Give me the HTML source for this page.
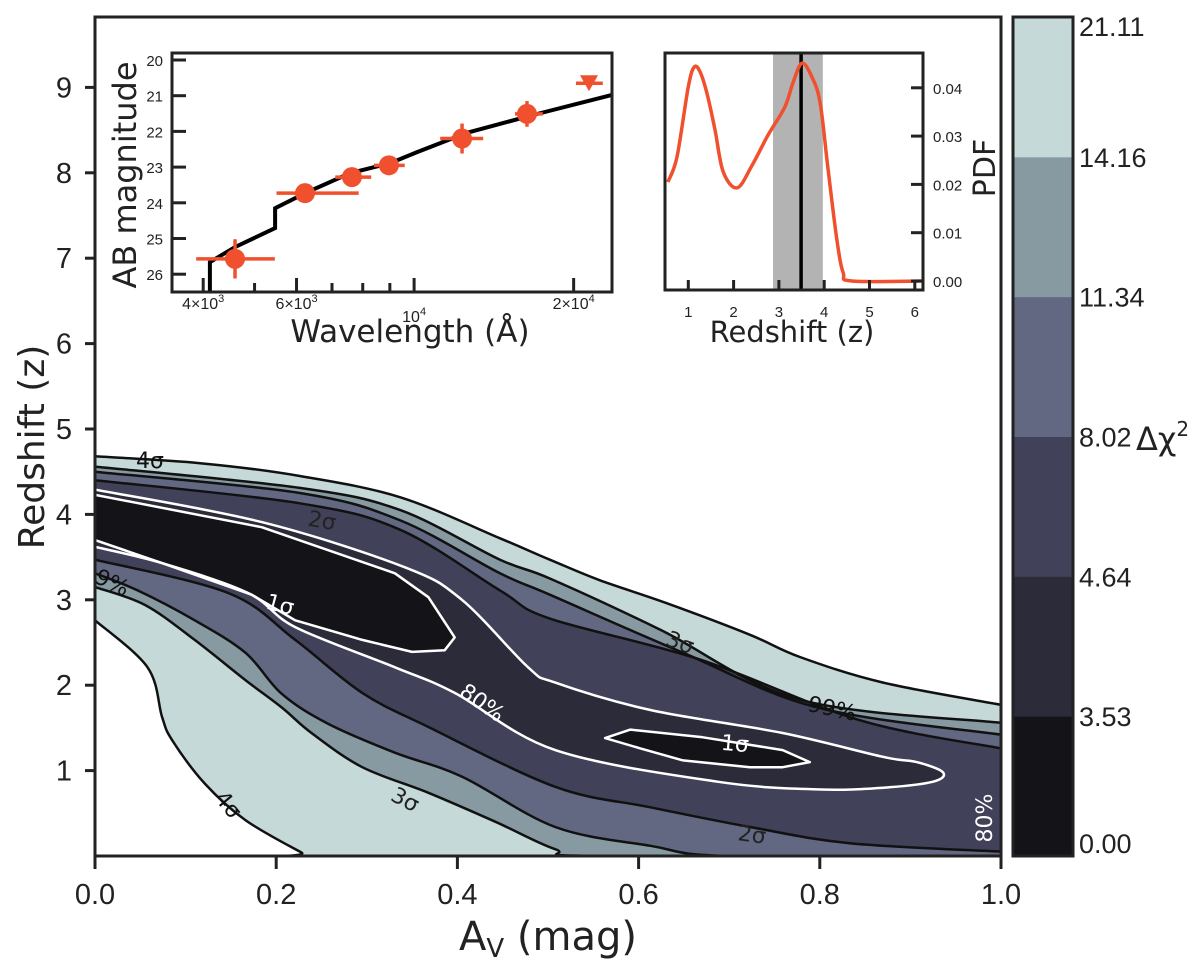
<!DOCTYPE html>
<html><head><meta charset="utf-8"><style>
html,body{margin:0;padding:0;background:#fff}
svg{display:block}
.tk{font-family:"Liberation Sans",Arial,sans-serif;fill:#222}
.tt{font-family:"DejaVu Sans","Liberation Sans",sans-serif;fill:#222}
</style></head><body>
<svg id="fig" width="1200" height="967" viewBox="0 0 1200 967" xmlns="http://www.w3.org/2000/svg"></svg>
<script>
// ---- main contour data (Av, z) ----
const band21UpAv=[0,.116,.226,.337,.447,.502,.557,.631,.723,.778,.870,1];
const band21UpZ=[4.68,4.60,4.45,4.20,3.72,3.47,3.23,2.96,2.59,2.33,2.03,1.77];
const band21LoAv=[0,.058,.074,.085,.121,.166,.228,.237,1];
const band21LoZ=[2.76,2.21,1.63,1.36,.85,.42,.04,0,0];
const band14UpAv=[0,.226,.337,.447,.502,.624,.778,1];
const band14UpZ=[4.56,4.31,4.05,3.47,3.25,2.65,1.83,1.56];
const band14LoAv=[0,.055,.110,.166,.206,.239,.295,.368,.442,.508,.557,1];
const band14LoZ=[3.15,2.94,2.53,2.06,1.74,1.44,1.04,.74,.40,.08,0,0];
const band11UpAv=[0,.226,.337,.447,.502,.649,.797,1];
const band11UpZ=[4.50,4.25,3.93,3.31,3.06,2.38,1.74,1.42];
const band11LoAv=[0,.047,.110,.166,.206,.257,.331,.405,.508,.613,.70,1];
const band11LoZ=[3.31,3.11,2.76,2.38,1.90,1.55,1.21,.93,.34,.12,0,0];
const band8UpAv=[0,.226,.337,.447,.502,.668,.844,1];
const band8UpZ=[4.40,4.13,3.82,3.11,2.78,2.30,1.59,1.26];
const band8LoAv=[0,.147,.221,.295,.368,.508,.613,.723,.833,1];
const band8LoZ=[3.47,3.08,2.53,1.91,1.51,.81,.57,.34,.15,.05];
const c80Av=[0,.184,.342,.405,.478,.508,.613,.759,.870,.907,.936,.925,.870,.797,.687,.508,.397,.331,.221,.169,.074,0];
const c80Z=[4.29,3.91,3.38,3.0,2.21,2.03,1.71,1.44,1.16,1.10,.98,.87,.80,.78,.87,1.24,1.91,2.21,2.68,3.08,3.43,3.62];
const c1aAv=[0,.184,.331,.368,.397,.386,.350,.295,.221,.173,.074,0];
const c1aZ=[4.23,3.85,3.31,3.03,2.56,2.41,2.39,2.53,2.76,3.06,3.43,3.70];
const c1bAv=[.563,.591,.671,.759,.789,.759,.723,.649,.602,.563];
const c1bZ=[1.38,1.48,1.39,1.24,1.10,1.04,1.04,1.12,1.26,1.38];
const xTicks=[0,0.2,0.4,0.6,0.8,1.0];
const xTickLabels=["0.0","0.2","0.4","0.6","0.8","1.0"];
const yTicks=[1,2,3,4,5,6,7,8,9];
const cbLevels=[0,3.53,4.64,8.02,11.34,14.16,21.11];
const cbLabels=["0.00","3.53","4.64","8.02","11.34","14.16","21.11"];
const cbColors=["#131318","#2b2b3a","#414159","#636882","#879aa1","#c5d9d9"];
// ---- SED inset data ----
const sedLam=[4593,6225,7632,8963,12316,16330];
const sedMag=[25.57,23.73,23.28,22.95,22.2,21.51];
const sedLamLo=[3880,5500,7100,8400,11200,15500];
const sedLamHi=[5460,7860,8300,9600,13500,17500];
const sedMagErr=[0.55,0.1,0.1,0.1,0.42,0.36];
const limLam=[21380];const limMag=[20.65];const limLamLo=[20200];const limLamHi=[22700];
const modelLam=[4118,4118,4593,5466,5466,6225,7570,9006,10130,12580,16770,23620];
const modelMag=[26.5,25.66,25.24,24.71,24.15,23.73,23.17,22.89,22.58,22.04,21.54,20.98];
const magTicks=[20,21,22,23,24,25,26];
// ---- PDF inset data ----
const pdfZ=[.55,.75,1.0,1.13,1.26,1.41,1.59,1.77,2.08,2.41,2.76,3.13,3.31,3.51,3.73,3.91,4.08,4.28,4.42,4.61,6.18];
const pdfV=[.0205,.0257,.0402,.0443,.0433,.0389,.0313,.0226,.0193,.024,.0302,.036,.041,.0451,.0422,.0369,.0236,.0085,.0017,0,0];
const zBest=[3.49];const zLo=[2.87];const zHi=[3.97];
const pdfTicks=[0,0.01,0.02,0.03,0.04];
const pdfZTicks=[1,2,3,4,5,6];

const NS="http://www.w3.org/2000/svg";
const svg=document.getElementById('fig');
function el(tag,attrs,parent){const e=document.createElementNS(NS,tag);for(const k in attrs)e.setAttribute(k,attrs[k]);(parent||svg).appendChild(e);return e;}
const X0=95,X1=1001,Y0=856,PZ=85.4;
const sx=a=>X0+(X1-X0)*a, sy=z=>Y0-PZ*z;
function pathFrom(avs,zs,close){return avs.map((a,i)=>(i?'L':'M')+sx(a).toFixed(1)+','+sy(zs[i]).toFixed(1)).join('')+(close?'Z':'');}
function smoothPts(P){if(P.length<3)return P.map((p,i)=>(i?'L':'M')+p[0].toFixed(1)+','+p[1].toFixed(1)).join('');
let d='M'+P[0][0].toFixed(1)+','+P[0][1].toFixed(1);
for(let i=0;i<P.length-1;i++){const p0=P[Math.max(0,i-1)],p1=P[i],p2=P[i+1],p3=P[Math.min(P.length-1,i+2)];
const c1=[p1[0]+(p2[0]-p0[0])/6,p1[1]+(p2[1]-p0[1])/6],c2=[p2[0]-(p3[0]-p1[0])/6,p2[1]-(p3[1]-p1[1])/6];
d+=`C${c1[0].toFixed(1)},${c1[1].toFixed(1)} ${c2[0].toFixed(1)},${c2[1].toFixed(1)} ${p2[0].toFixed(1)},${p2[1].toFixed(1)}`;}return d;}
const toPts=(A,Z)=>A.map((a,i)=>[sx(a),sy(Z[i])]);
function smoothPath(A,Z){return smoothPts(toPts(A,Z));}
function bandPath(ua,uz,la,lz){const up=smoothPts(toPts(ua,uz));const lo=toPts(la,lz).reverse();return up+smoothPts(lo).replace(/^M/,'L')+'Z';}
const defs=el('defs',{});
const cp=el('clipPath',{id:'pc'},defs);el('rect',{x:X0,y:17,width:X1-X0,height:Y0-17},cp);
const g=el('g',{'clip-path':'url(#pc)'});


const bands=[[band21UpAv,band21UpZ,band21LoAv,band21LoZ,cbColors[5],'band-21'],[band14UpAv,band14UpZ,band14LoAv,band14LoZ,cbColors[4],'band-14'],[band11UpAv,band11UpZ,band11LoAv,band11LoZ,cbColors[3],'band-11'],[band8UpAv,band8UpZ,band8LoAv,band8LoZ,cbColors[2],'band-8']];
bands.forEach(b=>{const p=el('path',{d:bandPath(b[0],b[1],b[2],b[3]),fill:b[4]},g);

});
const p80=el('path',{d:smoothPath(c80Av,c80Z),fill:cbColors[1]},g);


[[c1aAv,c1aZ],[c1bAv,c1bZ]].forEach(c=>{const p=el('path',{d:pathFrom(c[0],c[1],true),fill:cbColors[0]},g);

});
bands.forEach(b=>{[[b[0],b[1]],[b[2],b[3]]].forEach(c=>{const p=el('path',{d:smoothPath(c[0],c[1]),fill:'none',stroke:'#111',"stroke-width":2.5,"stroke-linejoin":"round"},g);

});});
{const p=el('path',{d:smoothPath(c80Av,c80Z),fill:'none',stroke:'#fff',"stroke-width":2.5},g);

}
[[c1aAv,c1aZ],[c1bAv,c1bZ]].forEach(c=>{const p=el('path',{d:pathFrom(c[0],c[1],true),fill:'none',stroke:'#fff',"stroke-width":2.5,"stroke-linejoin":"round"},g);

});
const clabels=[["4σ",150,468,0,'#111'],["2σ",322,528,10,'#222'],["1σ",280,612,15,'#fff'],["80%",482,710,35,'#fff'],["3σ",680,650,20,'#222'],["99%",832,716,12,'#111'],["1σ",735,751,5,'#fff'],["3σ",405,807,28,'#222'],["4σ",228,812,50,'#111'],["2σ",752,842,8,'#222'],["80%",985,825,-90,'#fff'],["9%",112,590,25,'#111']];
clabels.forEach(l=>{const t=el('text',{x:l[1],y:l[2],class:'tt','font-size':22,style:'fill:'+l[4],'text-anchor':'middle',transform:`rotate(${l[3]} ${l[1]} ${l[2]-7})`},g);t.textContent=l[0];

});
const fr=el('rect',{x:X0,y:17,width:X1-X0,height:Y0-17,fill:'none',stroke:'#222','stroke-width':3});


xTicks.forEach((v,i)=>{el('line',{x1:sx(v),x2:sx(v),y1:Y0,y2:Y0+13,stroke:'#222','stroke-width':3});
const t=el('text',{x:sx(v),y:904,class:'tk','font-size':29,'text-anchor':'middle'});t.textContent=xTickLabels[i];

});
yTicks.forEach(v=>{el('line',{x1:X0-10,x2:X0,y1:sy(v),y2:sy(v),stroke:'#222','stroke-width':3});
const t=el('text',{x:72,y:sy(v)+10,class:'tk','font-size':29,'text-anchor':'end'});t.textContent=v;

});
let t=el('text',{x:548,y:950,class:'tt','font-size':40,'text-anchor':'middle'});t.innerHTML='A<tspan font-size="26" dy="7">V</tspan><tspan dy="-7"> (mag)</tspan>';


t=el('text',{x:0,y:0,class:'tt','font-size':36,'text-anchor':'middle',transform:'translate(44,447) rotate(-90)'});t.textContent='Redshift (z)';


const CB0=17,CB1=856,CX=1013,CW=60;
const cy=i=>CB1-(CB1-CB0)*i/(cbLevels.length-1);
cbColors.forEach((c,i)=>{const r=el('rect',{x:CX,y:cy(i+1),width:CW,height:cy(i)-cy(i+1)+0.5,fill:c});

});
el('rect',{x:CX,y:CB0,width:CW,height:CB1-CB0,fill:'none',stroke:'#222','stroke-width':3});
cbLabels.forEach((l,i)=>{const tt=el('text',{x:1079,y:cy(i)+(i==0?-3:(i==6?19:10)),class:'tk','font-size':27});tt.textContent=l;

});
t=el('text',{x:1136,y:450,class:'tt','font-size':32});t.innerHTML='Δχ<tspan font-size="20" dy="-14">2</tspan>';


// SED inset
const SX0=172,SX1=612,SY0=53,SY1=292;
const lx=l=>172+530*(Math.log10(l)-Math.log10(3493)), my=m=>60+35.7*(m-20);
const sg=el('g',{});


el('rect',{x:SX0,y:SY0,width:SX1-SX0,height:SY1-SY0,fill:'#fff'},sg);
const cps=el('clipPath',{id:'sc'},defs);el('rect',{x:SX0,y:SY0,width:SX1-SX0,height:SY1-SY0},cps);
const sgc=el('g',{'clip-path':'url(#sc)'},sg);
const ml=el('path',{d:modelLam.map((l,i)=>(i?'L':'M')+lx(l).toFixed(1)+','+my(modelMag[i]).toFixed(1)).join(''),fill:'none',stroke:'#000','stroke-width':4},sgc);


const OR='#f0502e';
sedLam.forEach((l,i)=>{el('line',{x1:lx(sedLamLo[i]),x2:lx(sedLamHi[i]),y1:my(sedMag[i]),y2:my(sedMag[i]),stroke:OR,'stroke-width':3.5},sgc);
el('line',{x1:lx(l),x2:lx(l),y1:my(sedMag[i]-sedMagErr[i]),y2:my(sedMag[i]+sedMagErr[i]),stroke:OR,'stroke-width':3.5},sgc);
const c=el('circle',{cx:lx(l),cy:my(sedMag[i]),r:10,fill:OR},sgc);

});
limLam.forEach((l,i)=>{el('line',{x1:lx(limLamLo[i]),x2:lx(limLamHi[i]),y1:my(limMag[i]),y2:my(limMag[i]),stroke:OR,'stroke-width':3.5},sgc);
const x=lx(l),y=my(limMag[i]);const p=el('path',{d:`M${x-9},${y-8}L${x+9},${y-8}L${x},${y+8}Z`,fill:OR},sgc);

});
el('rect',{x:SX0,y:SY0,width:SX1-SX0,height:SY1-SY0,fill:'none',stroke:'#222','stroke-width':3},sg);
magTicks.forEach(m=>{el('line',{x1:SX0,x2:SX0+14,y1:my(m),y2:my(m),stroke:'#222','stroke-width':3},sg);
const tt=el('text',{x:163,y:my(m)+6,class:'tk','font-size':15,'text-anchor':'end'},sg);tt.textContent=m;

});
[4000,5000,6000,7000,8000,9000,10000,20000].forEach(l=>{const maj=(l==4000||l==6000||l==10000||l==20000);el('line',{x1:lx(l),x2:lx(l),y1:SY1,y2:SY1-(maj?14:9),stroke:'#222','stroke-width':3},sg);});
[[4000,'4×10<tspan font-size="11" dy="-7">3</tspan>',309],[6000,'6×10<tspan font-size="11" dy="-7">3</tspan>',309],[10000,'10<tspan font-size="11" dy="-7">4</tspan>',322],[20000,'2×10<tspan font-size="11" dy="-7">4</tspan>',309]].forEach(a=>{const tt=el('text',{x:lx(a[0]),y:a[2],class:'tk','font-size':16,'text-anchor':'middle'},sg);tt.innerHTML=a[1];

});
t=el('text',{x:410,y:342,class:'tt','font-size':31,'text-anchor':'middle'},sg);t.textContent='Wavelength (Å)';


t=el('text',{x:0,y:0,class:'tt','font-size':32,'text-anchor':'middle',transform:'translate(136,175) rotate(-90)'},sg);t.textContent='AB magnitude';


// PDF inset
const PX0=665,PX1=923,PY0=53,PY1=290;
const zx=z=>643+45.3*z, py=v=>281-4830*v;
const pg=el('g',{});


el('rect',{x:PX0,y:PY0,width:PX1-PX0,height:PY1-PY0,fill:'#fff'},pg);
const rb=el('rect',{x:zx(zLo[0]),y:PY0,width:zx(zHi[0])-zx(zLo[0]),height:PY1-PY0,fill:'#b3b3b3'},pg);


const bl=el('line',{x1:zx(zBest[0]),x2:zx(zBest[0]),y1:PY0,y2:PY1,stroke:'#000','stroke-width':3.5},pg);


const cpp=el('clipPath',{id:'ppc'},defs);el('rect',{x:PX0,y:PY0,width:PX1-PX0,height:PY1-PY0},cpp);
const pl=el('path',{d:smoothPts(pdfZ.map((z,i)=>[zx(z),py(pdfV[i])])),fill:'none',stroke:OR,'stroke-width':3.5,'stroke-linejoin':'round','clip-path':'url(#ppc)'},pg);


el('rect',{x:PX0,y:PY0,width:PX1-PX0,height:PY1-PY0,fill:'none',stroke:'#222','stroke-width':3},pg);
pdfZTicks.forEach(z=>{el('line',{x1:zx(z),x2:zx(z),y1:PY1,y2:PY1-10,stroke:'#222','stroke-width':3},pg);
const tt=el('text',{x:zx(z),y:317,class:'tk','font-size':15,'text-anchor':'middle'},pg);tt.textContent=z;

});
pdfTicks.forEach(v=>{el('line',{x1:PX1-12,x2:PX1,y1:py(v),y2:py(v),stroke:'#222','stroke-width':3},pg);
const tt=el('text',{x:933,y:py(v)+6,class:'tk','font-size':15},pg);tt.textContent=v.toFixed(2);

});
t=el('text',{x:792,y:342,class:'tt','font-size':29,'text-anchor':'middle'},pg);t.textContent='Redshift (z)';


t=el('text',{x:0,y:0,class:'tt','font-size':30,'text-anchor':'middle',transform:'translate(995,168) rotate(-90)'},pg);t.textContent='PDF';


</script>
</body></html>
